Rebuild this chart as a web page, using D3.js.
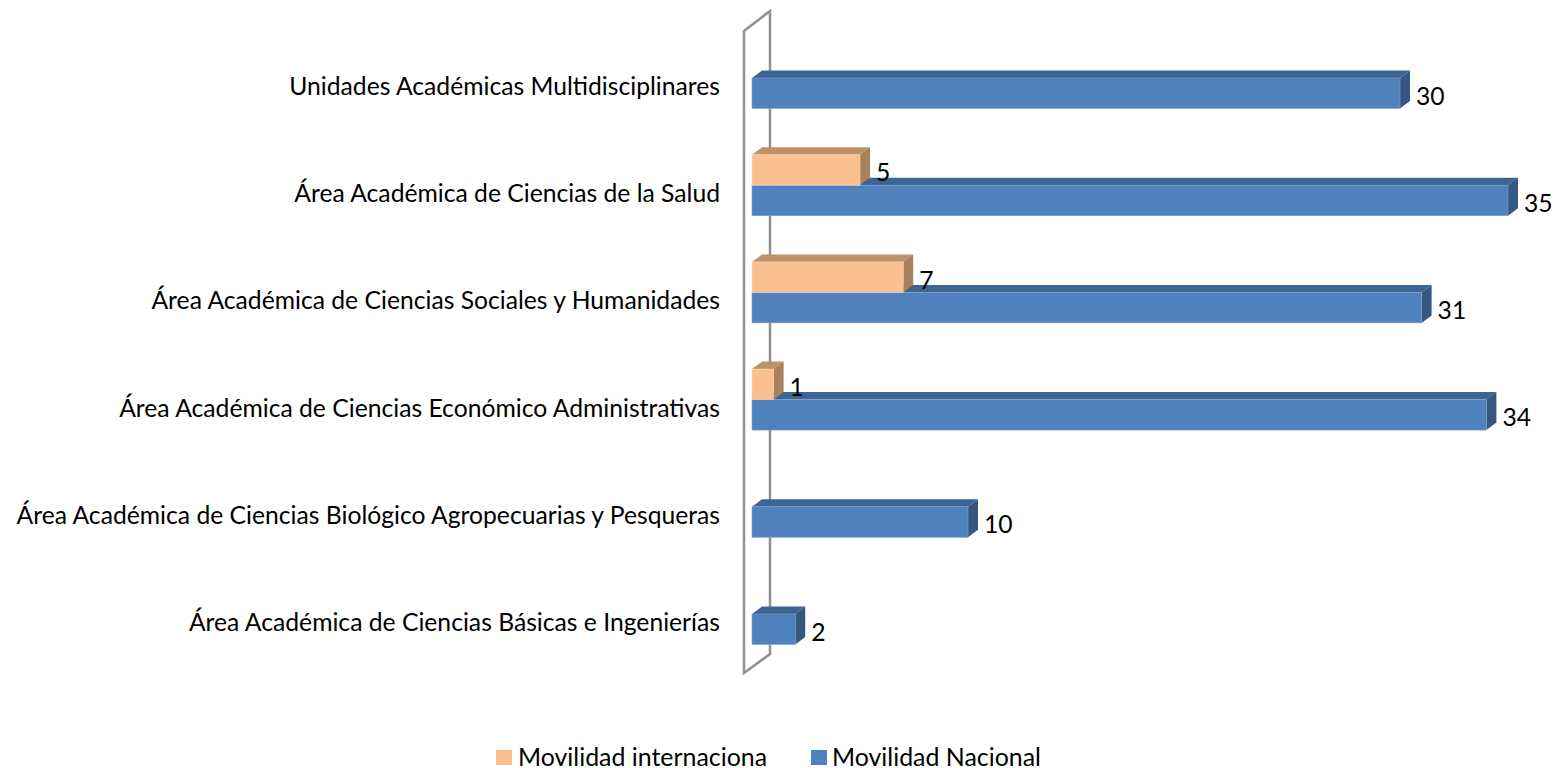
<!DOCTYPE html>
<html>
<head>
<meta charset="utf-8">
<script src="https://d3js.org/d3.v7.min.js"></script>
<style>
  html, body { margin: 0; padding: 0; background: #fff; }
  text { font-family: Lato, "Open Sans", sans-serif; fill: #000; }
</style>
</head>
<body>
<div id="chart"></div>
<script>
// datos
const categories = [
  "Unidades Académicas Multidisciplinares",
  "Área Académica de Ciencias de la Salud",
  "Área Académica de Ciencias Sociales y Humanidades",
  "Área Académica de Ciencias Económico Administrativas",
  "Área Académica de Ciencias Biológico Agropecuarias y Pesqueras",
  "Área Académica de Ciencias Básicas e Ingenierías"
];
const nacional = [30, 35, 31, 34, 10, 2];
const internacional = [null, 5, 7, 1, null, null];
const seriesNames = ["Movilidad internaciona", "Movilidad Nacional"];

const width = 1560, height = 768;
const depthX = 10, depthY = 7.5, barH = 30.5;

const blue = { front: "#4f81bd", top: "#3e6492", side: "#34587f", edge: "#7fa4d0" };
const orange = { front: "#fac090", top: "#bd9169", side: "#a88059", edge: "#fcd3b0" };

const svg = d3.select("#chart").append("svg")
  .attr("width", width)
  .attr("height", height)
  .style("display", "block");

const x = d3.scaleLinear().domain([0, 35]).range([752, 1508]);
const y = d3.scaleBand().domain(categories).range([24.4, 667.6]);
const mid = c => y(c) + y.bandwidth() / 2;

// pared del grafico 3D
svg.append("polygon")
  .attr("points", "744,31 770,11 770,654 744,673")
  .attr("fill", "none")
  .attr("stroke", "#919191")
  .attr("stroke-width", 2.5);

// dibuja una barra 3D (frente, tapa, lado)
function bar3d(g, value, top, col) {
  const x0 = x(0), x1 = x(value), bottom = top + barH;
  g.append("polygon")
    .attr("points", [[x0, top], [x0 + depthX, top - depthY], [x1 + depthX, top - depthY], [x1, top]].join(" "))
    .attr("fill", col.top);
  g.append("polygon")
    .attr("points", [[x1, top], [x1 + depthX, top - depthY], [x1 + depthX, bottom - depthY], [x1, bottom]].join(" "))
    .attr("fill", col.side);
  g.append("rect")
    .attr("x", x0)
    .attr("y", top)
    .attr("width", x1 - x0)
    .attr("height", barH)
    .attr("fill", col.front)
    .attr("stroke", col.edge)
    .attr("stroke-width", 0.6);
}

const bars = svg.append("g");
categories.forEach((c, i) => bar3d(bars, nacional[i], mid(c), blue));
categories.forEach((c, i) => {
  if (internacional[i] != null) bar3d(bars, internacional[i], mid(c) - barH, orange);
});

// etiquetas de valores
const labels = svg.append("g").attr("font-size", 24.7);
categories.forEach((c, i) => {
  labels.append("text")
    .attr("x", x(nacional[i]) + 16)
    .attr("y", mid(c) + barH / 2 + 2.5)
    .attr("dy", "0.36em")
    .text(nacional[i]);
  if (internacional[i] != null) {
    labels.append("text")
      .attr("x", x(internacional[i]) + 16)
      .attr("y", mid(c) - barH / 2 + 2.5)
      .attr("dy", "0.36em")
      .text(internacional[i]);
  }
});

// eje de categorias
const axis = svg.append("g")
  .attr("transform", `translate(${x(0)},9)`)
  .call(d3.axisLeft(y).tickSize(0).tickPadding(32));
axis.select(".domain").remove();
axis.selectAll("text").attr("font-size", 24.7).attr("font-family", "Lato");

// leyenda
const legend = svg.append("g");
[[496, orange.front, seriesNames[0], 22], [811, blue.front, seriesNames[1], 21]].forEach(d => {
  legend.append("rect")
    .attr("x", d[0]).attr("y", 750)
    .attr("width", 16).attr("height", 15)
    .attr("fill", d[1]);
  legend.append("text")
    .attr("x", d[0] + d[3])
    .attr("y", 757)
    .attr("dy", "0.36em")
    .attr("font-size", 24.9)
    .text(d[2]);
});
</script>
</body>
</html>
